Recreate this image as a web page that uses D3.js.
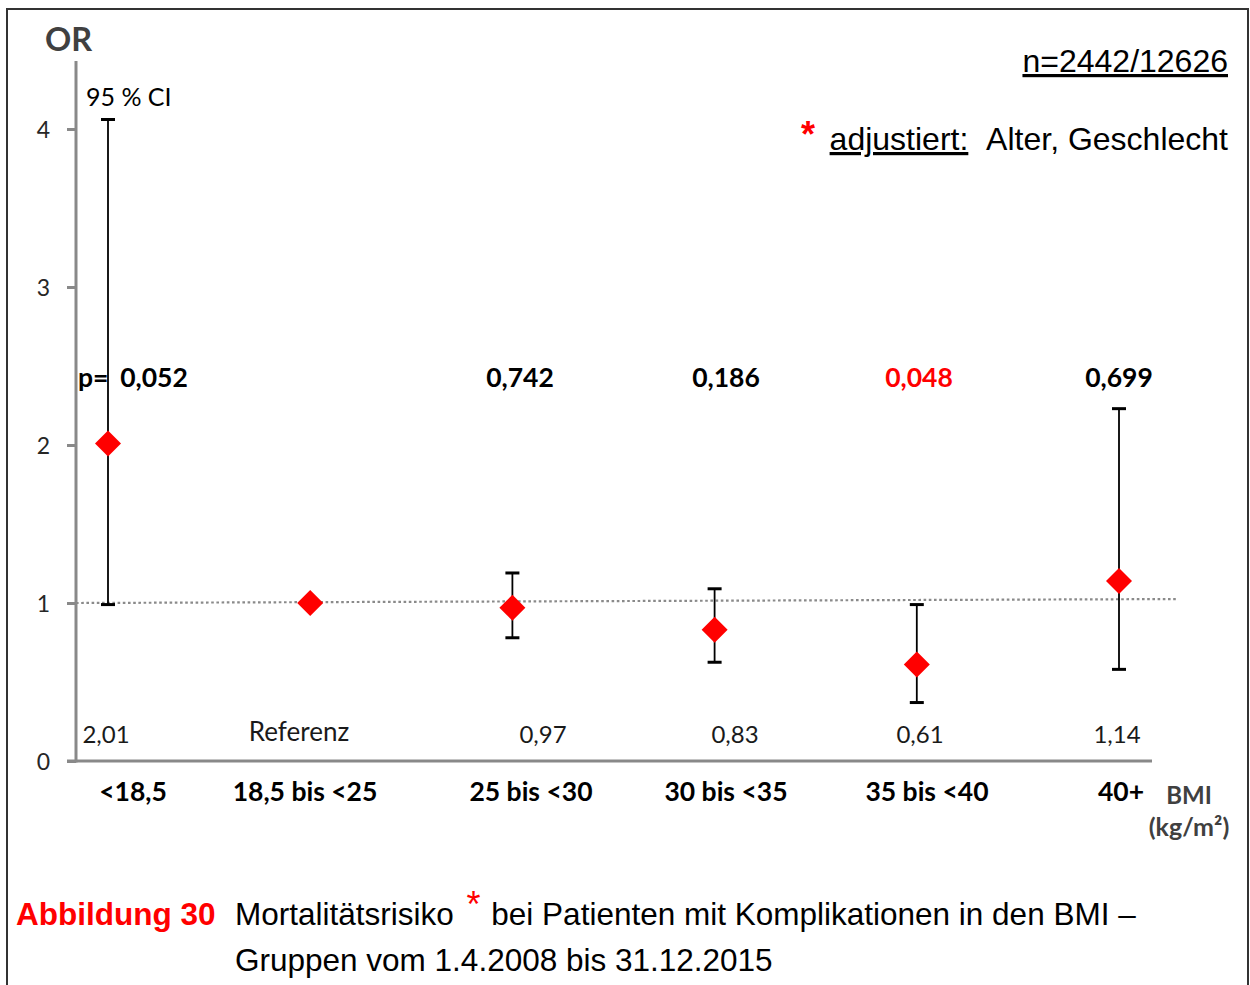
<!DOCTYPE html>
<html>
<head>
<meta charset="utf-8">
<script src="https://cdnjs.cloudflare.com/ajax/libs/d3/7.8.5/d3.min.js"></script>
<style>
  html, body { margin: 0; padding: 0; background: #fff; }
  svg { display: block; }
</style>
</head>
<body>
<svg id="chart" width="1250" height="985"></svg>
<script>
// ---- data ----
const categories = ["<18,5", "18,5 bis <25", "25 bis <30", "30 bis <35", "35 bis <40", "40+"];
const orValues   = [2.01, 1.00, 0.97, 0.83, 0.61, 1.14];
const ciLower    = [0.99, null, 0.78, 0.625, 0.37, 0.58];
const ciUpper    = [4.06, null, 1.19, 1.09, 0.99, 2.23];
const orLabels   = ["2,01", "Referenz", "0,97", "0,83", "0,61", "1,14"];
const pValues    = ["0,052", "", "0,742", "0,186", "0,048", "0,699"];
const pSignificant = [false, false, false, false, true, false];
const yTicks     = [0, 1, 2, 3, 4];
const refLine    = [1.0, 1.025];

const svg = d3.select("#chart");
const calibri = "Lato, 'Open Sans', sans-serif";
const arial = "'Liberation Sans', Arial, sans-serif";

// outer frame
svg.append("rect").attr("x", 7).attr("y", 9).attr("width", 1241).attr("height", 990)
  .attr("fill", "none").attr("stroke", "#333").attr("stroke-width", 2);

// scales
const y = d3.scaleLinear().domain([0, 4]).range([761, 129]);
const x = d3.scalePoint().domain(categories).range([108, 1119]);
const xLine = d3.scaleLinear().domain([0, 1]).range([76, 1177]);

// y axis
const yAxis = d3.axisLeft(y).tickValues(yTicks).tickSize(9).tickPadding(17).tickFormat(d3.format("d"));
const yg = svg.append("g").attr("transform", "translate(76,0)").call(yAxis);
yg.select(".domain").remove();
yg.selectAll(".tick line").attr("stroke", "#898989").attr("stroke-width", 3);
yg.selectAll(".tick text").attr("font-family", calibri).attr("font-size", 23).attr("fill", "#262626").attr("dy", "0.35em");
svg.append("line").attr("x1", 76).attr("x2", 76).attr("y1", 61).attr("y2", y(0) + 1.5)
  .attr("stroke", "#898989").attr("stroke-width", 3);

// x axis line
svg.append("line").attr("x1", 67).attr("x2", 1152).attr("y1", y(0)).attr("y2", y(0))
  .attr("stroke", "#898989").attr("stroke-width", 3);

// reference dotted line
svg.append("line")
  .attr("x1", xLine(0)).attr("x2", xLine(1))
  .attr("y1", y(refLine[0])).attr("y2", y(refLine[1]))
  .attr("stroke", "#8a8a8a").attr("stroke-width", 2.2).attr("stroke-dasharray", "2.6,2.6");

// error bars
const idx = d3.range(categories.length).filter(i => ciLower[i] !== null);
const eb = svg.append("g");
eb.selectAll("line.v").data(idx).join("line")
  .attr("x1", i => x(categories[i])).attr("x2", i => x(categories[i]))
  .attr("y1", i => y(ciUpper[i])).attr("y2", i => y(ciLower[i]))
  .attr("stroke", "#000").attr("stroke-width", 1.8);
eb.selectAll("line.cu").data(idx).join("line")
  .attr("x1", i => x(categories[i]) - 7).attr("x2", i => x(categories[i]) + 7)
  .attr("y1", i => y(ciUpper[i])).attr("y2", i => y(ciUpper[i]))
  .attr("stroke", "#000").attr("stroke-width", 3);
eb.selectAll("line.cl").data(idx).join("line")
  .attr("x1", i => x(categories[i]) - 7).attr("x2", i => x(categories[i]) + 7)
  .attr("y1", i => y(ciLower[i])).attr("y2", i => y(ciLower[i]))
  .attr("stroke", "#000").attr("stroke-width", 3);

// diamonds
const dsym = d3.symbol().type(d3.symbolSquare).size(13 * 13 * 2);
svg.append("g").selectAll("path").data(orValues).join("path")
  .attr("d", dsym)
  .attr("transform", (d, i) => `translate(${x(categories[i])},${y(d)}) rotate(45)`)
  .attr("fill", "#ff0000");

// OR value labels
const lblX = [106, 299, 543, 735, 920, 1117];
svg.append("g").selectAll("text").data(orLabels).join("text")
  .attr("x", (d, i) => lblX[i]).attr("y", (d, i) => i === 1 ? 741 : 743)
  .attr("text-anchor", "middle")
  .attr("font-family", calibri).attr("font-size", (d, i) => i === 1 ? 26 : 24).attr("fill", "#1a1a1a")
  .text(d => d);

// p values
svg.append("text").attr("x", 78).attr("y", 387)
  .attr("font-family", calibri).attr("font-weight", "bold").attr("font-size", 26.5).text("p=");
const pX = [154, null, 520, 726, 919, 1119];
svg.append("g").selectAll("text").data(pValues.map((p, i) => ({p, i})).filter(d => d.p !== "")).join("text")
  .attr("x", d => pX[d.i]).attr("y", 387).attr("text-anchor", "middle")
  .attr("font-family", calibri).attr("font-weight", "bold").attr("font-size", 26.5)
  .attr("fill", d => pSignificant[d.i] ? "#ff0000" : "#000")
  .text(d => d.p);

// category labels
const catX = [133, 305, 531, 726, 927, 1121];
svg.append("g").selectAll("text").data(categories).join("text")
  .attr("x", (d, i) => catX[i]).attr("y", 801).attr("text-anchor", "middle")
  .attr("font-family", calibri).attr("font-weight", "bold").attr("font-size", 26.5).attr("fill", "#000")
  .text(d => d);

// BMI unit
svg.append("text").attr("x", 1189).attr("y", 804).attr("text-anchor", "middle")
  .attr("font-family", calibri).attr("font-weight", "bold").attr("font-size", 24).attr("fill", "#404040").text("BMI");
svg.append("text").attr("x", 1189).attr("y", 836).attr("text-anchor", "middle")
  .attr("font-family", calibri).attr("font-weight", "bold").attr("font-size", 25).attr("fill", "#404040").text("(kg/m²)");

// OR axis title
svg.append("text").attr("x", 45).attr("y", 51)
  .attr("font-family", calibri).attr("font-weight", "bold").attr("font-size", 32.5).attr("fill", "#404040").text("OR");
svg.append("text").attr("x", 86).attr("y", 106)
  .attr("font-family", calibri).attr("font-size", 25).attr("fill", "#000").text("95 % CI");

// n= label
svg.append("text").attr("x", 1228).attr("y", 72).attr("text-anchor", "end")
  .attr("font-family", arial).attr("font-size", 32).attr("fill", "#000")
  .attr("text-decoration", "underline").text("n=2442/12626");

// adjustiert
const adj = svg.append("text").attr("x", 1228).attr("y", 150).attr("text-anchor", "end")
  .attr("font-family", arial).attr("font-size", 32).attr("fill", "#000");
adj.append("tspan").attr("text-decoration", "underline").text("adjustiert:");
adj.append("tspan").text("\u00a0\u00a0Alter, Geschlecht");
svg.append("text").attr("x", 808).attr("y", 147).attr("text-anchor", "middle")
  .attr("font-family", arial).attr("font-weight", "bold").attr("font-size", 36).attr("fill", "#ff0000").text("*");

// caption
svg.append("text").attr("x", 16).attr("y", 925)
  .attr("font-family", arial).attr("font-weight", "bold").attr("font-size", 31.5).attr("fill", "#ff0000").text("Abbildung 30");
const cap1 = svg.append("text").attr("x", 235).attr("y", 925)
  .attr("font-family", arial).attr("font-size", 31.5).attr("fill", "#000");
cap1.append("tspan").text("Mortalitätsrisiko ");
cap1.append("tspan").attr("fill", "#ff0000").attr("dx", 4).attr("dy", -8).attr("font-size", 36).text("*");
cap1.append("tspan").attr("dx", 2).attr("dy", 8).text(" bei Patienten mit Komplikationen in den BMI –");
svg.append("text").attr("x", 235).attr("y", 971)
  .attr("font-family", arial).attr("font-size", 31.5).attr("fill", "#000").text("Gruppen vom 1.4.2008 bis 31.12.2015");
</script>
</body>
</html>
